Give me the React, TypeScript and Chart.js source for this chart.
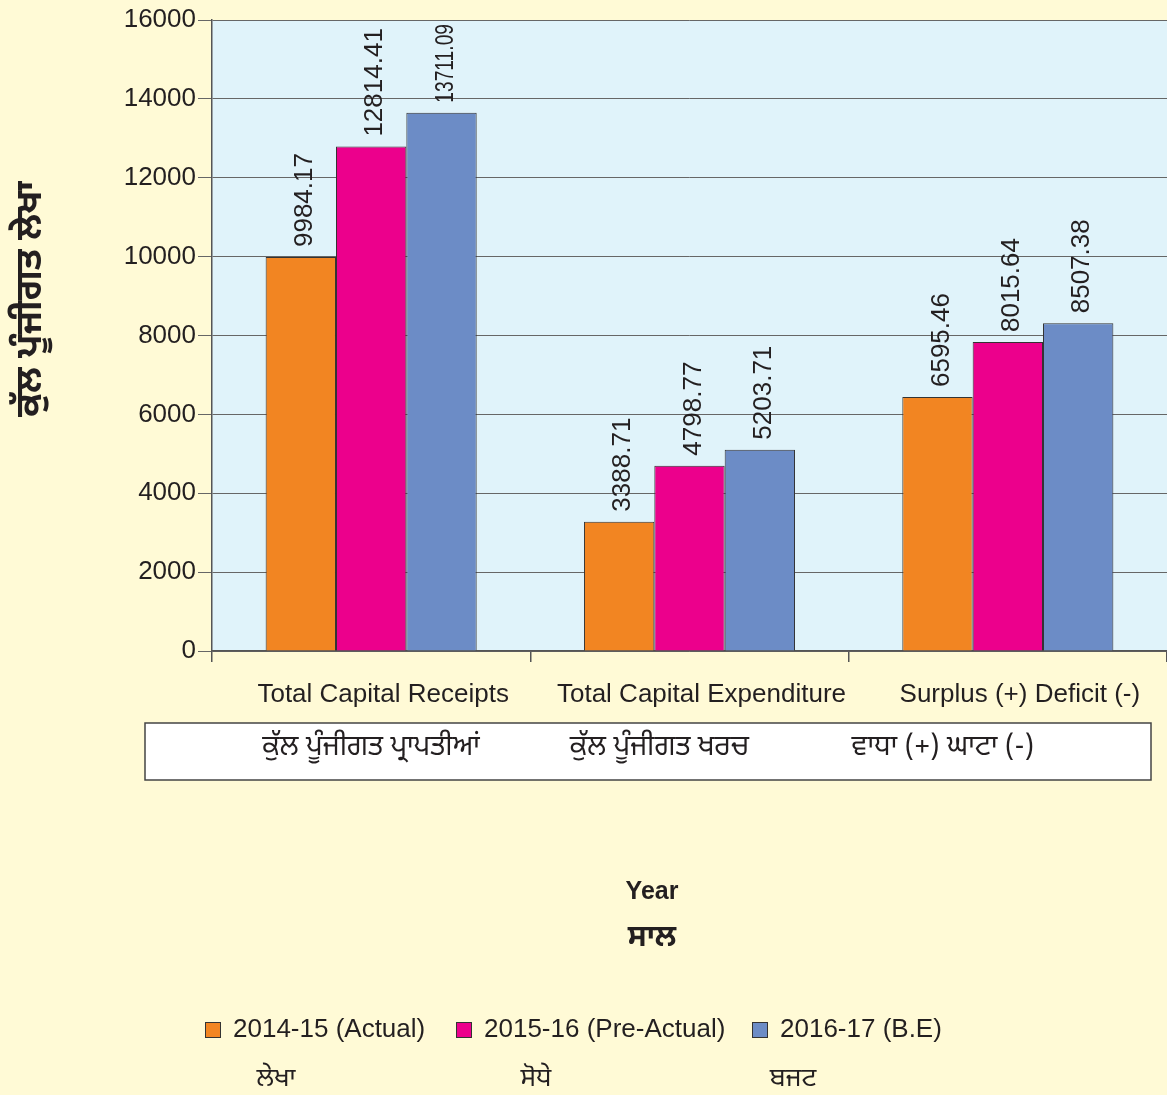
import React, { useEffect, useRef } from "react";
import { Chart, registerables } from "chart.js";

Chart.register(...registerables);

// ---- data ----
const categories = ["Total Capital Receipts", "Total Capital Expenditure", "Surplus (+) Deficit (-)"];
const categoriesPa = ["ਕੁੱਲ ਪੂੰਜੀਗਤ ਪ੍ਰਾਪਤੀਆਂ", "ਕੁੱਲ ਪੂੰਜੀਗਤ ਖਰਚ", "ਵਾਧਾ (+) ਘਾਟਾ (-)"];
const seriesNames = ["2014-15 (Actual)", "2015-16 (Pre-Actual)", "2016-17 (B.E)"];
const seriesNamesPa = ["ਲੇਖਾ", "ਸੋਧੇ", "ਬਜਟ"];
const values2014 = [9990, 3280, 6440];
const values2015 = [12790, 4700, 7835];
const values2016 = [13650, 5105, 8310];
const labels2014 = ["9984.17", "3388.71", "6595.46"];
const labels2015 = ["12814.41", "4798.77", "8015.64"];
const labels2016 = ["13711.09", "5203.71", "8507.38"];
const yTitle = "ਕੁੱਲ ਪੂੰਜੀਗਤ ਲੇਖਾ";
const xTitle = "Year";
const xTitlePa = "ਸਾਲ";

const seriesValues = [values2014, values2015, values2016];
const seriesLabels = [labels2014, labels2015, labels2016];
const seriesColors = ["#F28522", "#EC008C", "#6C8CC6"];

const W = 1167;
const H = 1095;
const FONT = "'Liberation Sans', Arial, Helvetica, sans-serif";
const PA_FONT = "'Noto Sans Gurmukhi', 'Lohit Gurmukhi', 'FreeSans', 'Noto Sans', sans-serif";
const TEXT = "#231F20";
const CREAM = "#FFFAD6";
const PLOT_BG = "#E0F3FA";

const bgPlugin = {
  id: "bgPlugin",
  beforeDraw(chart: any) {
    const { ctx, chartArea: a } = chart;
    ctx.save();
    ctx.fillStyle = CREAM;
    ctx.fillRect(0, 0, chart.width, chart.height);
    ctx.fillStyle = PLOT_BG;
    ctx.fillRect(a.left, a.top, a.right - a.left, a.bottom - a.top);
    ctx.restore();
  },
};

const paOffsets = [0, -30, -65];
const legendX = [205, 456, 752];
const legendPaX = [276, 536, 793];

const textPlugin = {
  id: "textPlugin",
  afterDatasetsDraw(chart: any) {
    const { ctx, chartArea } = chart;
    ctx.save();
    ctx.font = `26px ${FONT}`;
    ctx.fillStyle = TEXT;
    ctx.textAlign = "left";
    ctx.textBaseline = "middle";
    chart.data.datasets.forEach((_: any, di: number) => {
      const meta = chart.getDatasetMeta(di);
      meta.data.forEach((el: any, i: number) => {
        const start = el.y - 10;
        const room = start - (chartArea.top + 4);
        ctx.save();
        ctx.translate(el.x + 4, start);
        ctx.rotate(-Math.PI / 2);
        const t = seriesLabels[di][i];
        if (ctx.measureText(t).width > room) ctx.fillText(t, 0, 0, room);
        else ctx.fillText(t, 0, 0);
        ctx.restore();
      });
    });
    ctx.restore();
  },
  afterDraw(chart: any) {
    const { ctx } = chart;
    const xs = chart.scales.x;
    ctx.save();
    // box with Punjabi category names
    ctx.fillStyle = "#FFFFFF";
    ctx.fillRect(145, 723, 1006, 57);
    ctx.strokeStyle = "#444";
    ctx.lineWidth = 1.5;
    ctx.strokeRect(145, 723, 1006, 57);
    ctx.fillStyle = TEXT;
    ctx.font = `28px ${PA_FONT}`;
    ctx.textAlign = "center";
    ctx.textBaseline = "middle";
    categoriesPa.forEach((t, i) => {
      ctx.fillText(t, xs.getPixelForValue(i) + paOffsets[i], 750);
    });
    // y title
    ctx.save();
    ctx.translate(34, 299);
    ctx.rotate(-Math.PI / 2);
    ctx.font = `bold 36px ${PA_FONT}`;
    ctx.fillText(yTitle, 0, 0);
    ctx.restore();
    // x title
    ctx.font = `bold 25px ${FONT}`;
    ctx.fillText(xTitle, 652, 892);
    ctx.font = `bold 30px ${PA_FONT}`;
    ctx.fillText(xTitlePa, 652, 940);
    // legend
    ctx.textAlign = "left";
    seriesNames.forEach((name, i) => {
      const bx = legendX[i];
      ctx.fillStyle = seriesColors[i];
      ctx.fillRect(bx, 1022, 15, 15);
      ctx.strokeStyle = "#333";
      ctx.lineWidth = 1;
      ctx.strokeRect(bx + 0.5, 1022.5, 15, 15);
      ctx.fillStyle = TEXT;
      ctx.font = `26px ${FONT}`;
      ctx.fillText(name, bx + 28, 1030);
    });
    ctx.textAlign = "center";
    ctx.font = `26px ${PA_FONT}`;
    seriesNamesPa.forEach((t, i) => {
      ctx.fillText(t, legendPaX[i], 1081);
    });
    ctx.restore();
  },
};

export default function App() {
  const ref = useRef<HTMLCanvasElement>(null);
  useEffect(() => {
    const canvas = ref.current!;
    const chart = new Chart(canvas, {
      type: "bar",
      data: {
        labels: categories,
        datasets: seriesNames.map((name, i) => ({
          label: name,
          data: seriesValues[i],
          backgroundColor: seriesColors[i],
          borderColor: "#333333",
          borderWidth: 1,
          categoryPercentage: 0.663,
          barPercentage: 1,
        })),
      },
      options: {
        responsive: false,
        animation: false,
        devicePixelRatio: 1,
        layout: { padding: { left: 0, right: 0, top: 20, bottom: 0 } },
        plugins: { legend: { display: false }, tooltip: { enabled: false } },
        scales: {
          x: {
            grid: { offset: true, drawOnChartArea: false, drawTicks: true, tickLength: 11, color: "#555", lineWidth: 1.5 },
            border: { display: true, color: "#555", width: 1.5 },
            ticks: {
              font: { family: FONT, size: 26 },
              color: TEXT,
              padding: 17,
              labelOffset: 12,
              maxRotation: 0,
              autoSkip: false,
            },
            afterFit: (s: any) => {
              s.height = H - 651;
            },
          },
          y: {
            min: 0,
            max: 16000,
            ticks: {
              stepSize: 2000,
              font: { family: FONT, size: 26 },
              color: TEXT,
              padding: 2,
              callback: (v: any) => String(v),
            },
            grid: { color: "#666", lineWidth: 1, tickLength: 14 },
            border: { display: true, color: "#555", width: 1.5 },
            afterFit: (s: any) => {
              s.width = 212;
            },
          },
        },
      },
      plugins: [bgPlugin, textPlugin],
    } as any);
    return () => chart.destroy();
  }, []);
  return (
    <div style={{ position: "absolute", left: 0, top: 0, width: W, height: H }}>
      <canvas ref={ref} width={W} height={H} style={{ display: "block", width: W, height: H }} />
    </div>
  );
}
